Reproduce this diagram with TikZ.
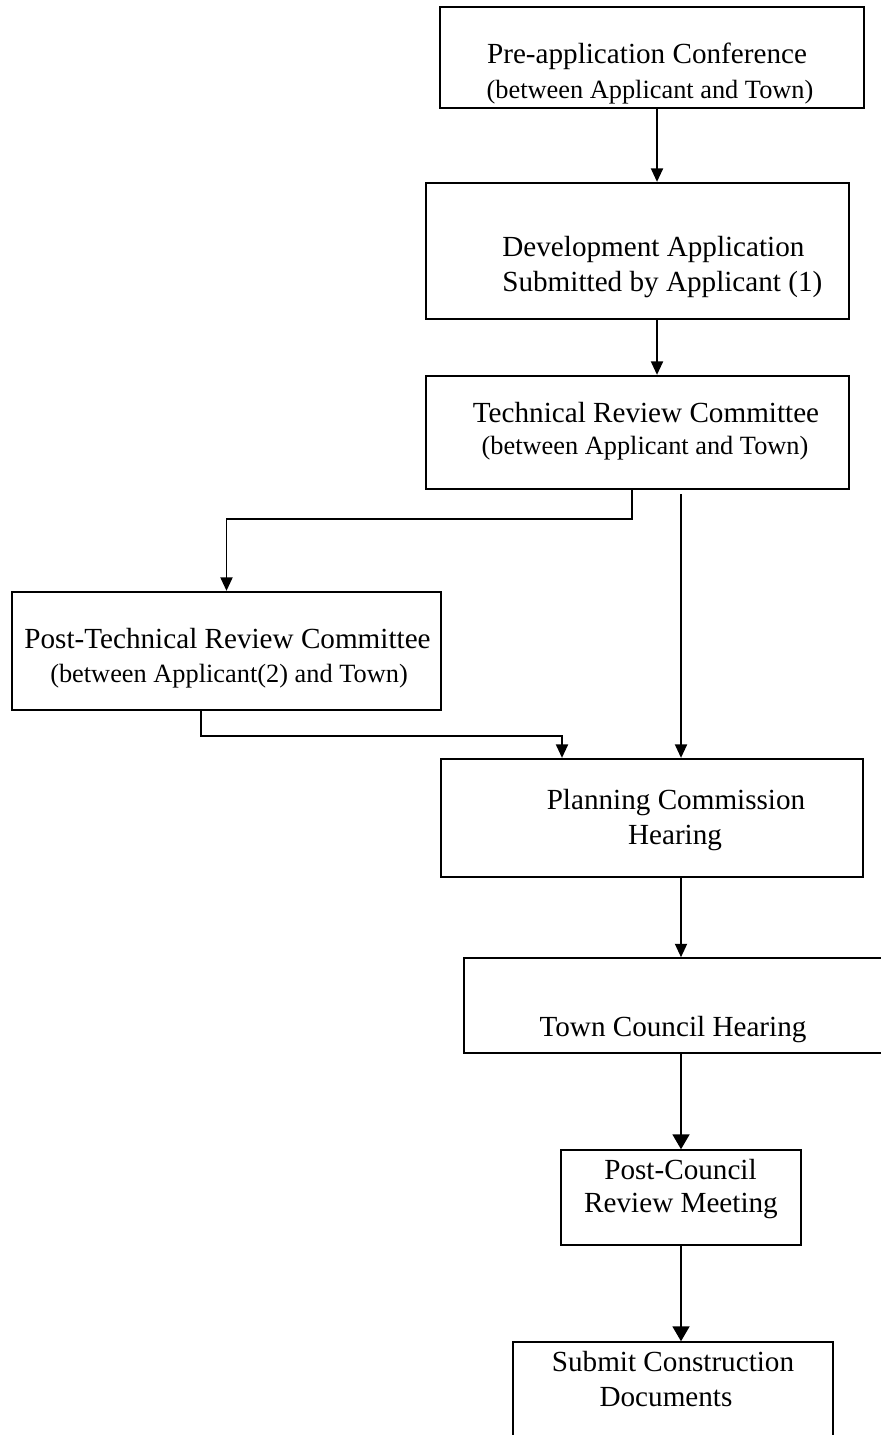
\documentclass[tikz,border=0pt]{standalone}
\usepackage{fontspec}
\setmainfont{Liberation Serif}
\usetikzlibrary{arrows.meta}

\begin{document}
\begin{tikzpicture}[
   x=0.02cm,y=-0.02cm,
   blk/.style={draw,line width=1.3pt,inner sep=0pt},
   blkthin/.style={draw,line width=0.85pt,inner sep=0pt},
   arr/.style={line width=1.1pt,-{Triangle[length=0.27cm,width=0.24cm]}},
   arrbig/.style={line width=1.1pt,-{Triangle[length=0.3cm,width=0.34cm]}},
   lbl/.style={anchor=base,inner sep=0pt,font=\fontsize{16.6}{20}\selectfont},
   sublbl/.style={anchor=base,inner sep=0pt,font=\fontsize{15}{18}\selectfont}
 ]
  \useasboundingbox (0,0) rectangle (880,1435);

  % boxes
  \node[blk,minimum width=8.48cm,minimum height=2.02cm] (pre) at (652,57.5) {};
  \node[blk,minimum width=8.46cm,minimum height=2.72cm] (dev) at (637.5,251) {};
  \node[blk,minimum width=8.46cm,minimum height=2.26cm] (trc) at (637.5,432.5) {};
  \node[blk,minimum width=8.58cm,minimum height=2.36cm] (ptrc) at (226.5,651) {};
  \node[blk,minimum width=8.44cm,minimum height=2.36cm] (pc) at (652,818) {};
  \node[blkthin,minimum width=8.72cm,minimum height=1.9cm] (tc) at (682,1005.5) {};
  \node[blkthin,minimum width=4.8cm,minimum height=1.9cm] (pcr) at (681,1197.5) {};
  \node[blkthin,minimum width=6.4cm,minimum height=2.36cm] (scd) at (673,1401) {};

  % texts
  \node[lbl] (pre-a) at (647,63.3) {Pre-application Conference};
  \node[sublbl] (pre-b) at (650,99) {(between Applicant and Town)};
  \node[lbl,anchor=base west] (dev-a) at (502,257) {Development Application};
  \node[lbl,anchor=base west] (dev-b) at (502,292) {Submitted by Applicant (1)};
  \node[lbl] (trc-a) at (646,423) {Technical Review Committee};
  \node[sublbl] (trc-b) at (645,455) {(between Applicant and Town)};
  \node[lbl] (ptrc-a) at (227.5,648) {Post-Technical Review Committee};
  \node[sublbl] (ptrc-b) at (229,682) {(between Applicant(2) and Town)};
  \node[lbl] (pc-a) at (676,809) {Planning Commission};
  \node[lbl] (pc-b) at (675,844) {Hearing};
  \node[lbl] (tc-a) at (673,1036) {Town Council Hearing};
  \node[lbl] (pcr-a) at (680.5,1179) {Post-Council};
  \node[lbl] (pcr-b) at (681,1212) {Review Meeting};
  \node[lbl] (scd-a) at (673,1371) {Submit Construction};
  \node[lbl] (scd-b) at (666,1406) {Documents};

  % connectors
  \coordinate (k1) at (657,0);
  \coordinate (k2) at (632,0);
  \coordinate (k3) at (226.5,519);
  \coordinate (k4) at (201,0);
  \coordinate (k5) at (562,736);
  \coordinate (k6) at (681,0);
  \draw[arr] (pre.south -| k1) -- (dev.north -| k1);
  \draw[arr] (dev.south -| k1) -- (trc.north -| k1);
  \draw[arr] (trc.south -| k2) |- (k3) -- (ptrc.north);
  \draw[arr] (ptrc.south -| k4) |- (k5) -- (pc.north -| k5);
  \draw[arr,shorten <=0.08cm] (trc.south -| k6) -- (pc.north -| k6);
  \draw[arr] (pc.south -| k6) -- (tc.north -| k6);
  \draw[arrbig] (tc.south -| k6) -- (pcr.north -| k6);
  \draw[arrbig] (pcr.south -| k6) -- (scd.north -| k6);
\end{tikzpicture}
\end{document}
